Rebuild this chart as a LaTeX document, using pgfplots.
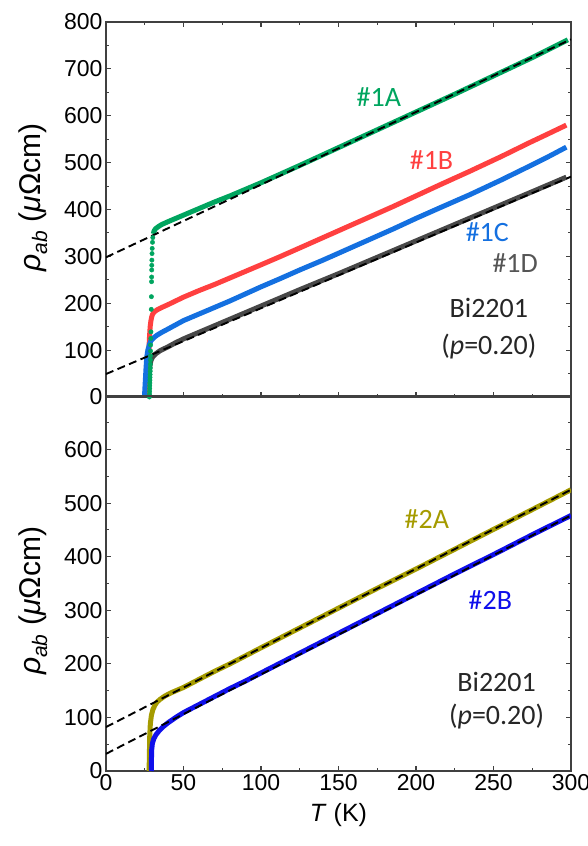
\documentclass[border=0pt]{standalone}
\usepackage{fontspec}
\setmainfont{Liberation Sans}
\newfontfamily\cb{Carlito}
\usepackage{pgfplots}
\pgfplotsset{compat=1.18}
\definecolor{axisgray}{RGB}{64,64,64}
\definecolor{greenA}{RGB}{0,165,95}
\definecolor{redB}{RGB}{255,64,64}
\definecolor{blueC}{RGB}{20,112,224}
\definecolor{grayD}{RGB}{72,72,72}
\definecolor{grayDl}{RGB}{85,85,85}
\definecolor{oliveA}{RGB}{165,155,0}
\definecolor{blueB}{RGB}{15,15,235}
\tikzset{
 lab/.style={font=\cb\fontsize{28}{32}\selectfont},
 curveline/.style={line width=5pt},
 fitline/.style={black, line width=1.9pt, dash pattern=on 8pt off 4.5pt},
}
\pgfplotsset{
 rhoaxis/.style={
  scale only axis, width=465pt, height=375pt,
  xmin=0, xmax=300,
  xtick={0,50,...,300}, minor xtick={25,75,...,275},
  tick align=inside,
  major tick length=5pt, minor tick length=3pt,
  axis line style={draw=axisgray, line width=1.3pt},
  tick style={draw=axisgray, line width=1.1pt},
  ticklabel style={font=\fontsize{23}{26}\selectfont},
  /pgf/number format/assume math mode=true,
  xlabel style={font=\fontsize{25}{28}\selectfont},
  ylabel style={font=\fontsize{30}{34}\selectfont},
 },
}
\begin{document}
\begin{tikzpicture}
\path[use as bounding box] (-106pt,-75pt) rectangle (482pt,771pt);
% ---------------- top panel
\begin{axis}[rhoaxis, at={(0pt,374pt)},
  ymin=0, ymax=800, ytick={0,100,...,800}, minor ytick={50,150,...,750},
  xticklabels={}, xtick pos=both, ytick pos=both,
  ylabel={\textit{ρ}\textsubscript{\textit{ab}} (\textit{μ}Ωcm)},
  ylabel style={at={([xshift=-73pt]axis description cs:0,0.532)}, anchor=center},
]
\addplot[curveline, grayD] coordinates {(27,0) (27.8,40) (28.3,65) (29,78) (30,85) (32,92) (35,99) (40,107) (45,116) (50,124) (60,138) (70,152) (80,166) (90,180) (100,194) (125,229) (150,263) (175,298) (200,333) (225,368) (250,403) (275,438) (297,469)};
\addplot[curveline, redB] coordinates {(26.8,0) (27.2,40) (27.6,90) (28,125) (28.5,150) (29,163) (29.5,171) (30,176) (31,181) (33,186) (36,191) (40,197) (45,205) (50,213) (60,227) (70,240) (80,254) (90,268) (100,282) (112,299) (125,318) (140,340) (155,362) (170,384) (185,406) (200,429) (215,452) (235,482) (255,513) (273.5,543) (285,561) (297,580)};
\addplot[curveline, blueC] coordinates {(24.8,0) (25.3,30) (25.8,60) (26.3,85) (27,100) (28,112) (29,120) (31,127) (33,132) (36,138) (40,145) (45,154) (50,163) (60,177) (70,191) (80,205) (90,220) (100,235) (112,252) (125,271) (140,292) (155,314) (170,336) (185,358) (200,381) (215,403) (235,432) (255,463) (273.5,493) (285,512) (297,533)};
\addplot[curveline, greenA] coordinates {(30.5,348) (31,354) (32,359) (34,364) (36,368) (40,374) (45,381) (50,388) (60,402) (70,416) (80,429) (90,443) (100,457) (125,494) (150,532) (175,570) (200,608) (225,646) (250,685) (275,724) (298,762)};
\addplot[only marks, mark=*, mark size=2.2pt, greenA, mark options={draw=none, fill=greenA}] coordinates {(28.0,0) (28.1,6) (28.15,12) (28.2,18) (28.25,24) (28.3,30) (28.35,36) (28.4,42) (28.45,48) (28.5,55) (28.55,62) (28.6,70) (28.65,79) (28.7,88) (28.75,98) (28.8,111) (28.9,125) (29.0,139) (29.2,187) (29.3,214) (29.4,246) (29.45,256) (29.5,271) (29.55,281) (29.6,292) (29.7,306) (29.8,317) (30.0,330) (30.2,340)};
\addplot[fitline] coordinates {(0,298) (300,763)};
\addplot[fitline] coordinates {(0,49) (300,470)};
\node[lab, text=greenA] at (axis cs:176,640) {\#1A};
\node[lab, text=redB] at (axis cs:210,505) {\#1B};
\node[lab, text=blueC] at (axis cs:246,352) {\#1C};
\node[lab, text=grayDl] at (axis cs:264,285) {\#1D};
\node[lab, text=black!85] at (axis cs:247,191) {Bi2201};
\node[lab, text=black!85] at (axis cs:247,107) {(\textit{p}=0.20)};
\end{axis}
% ---------------- bottom panel
\begin{axis}[rhoaxis, at={(0pt,0pt)},
  ymin=0, ymax=700, ytick={0,100,...,600}, minor ytick={50,150,...,650},
  xtick pos=left, ytick pos=both,
  ylabel={\textit{ρ}\textsubscript{\textit{ab}} (\textit{μ}Ωcm)},
  ylabel style={at={([xshift=-73pt]axis description cs:0,0.454)}, anchor=center},
  xlabel={\textit{T} (K)},
  xlabel style={at={([yshift=-44pt]axis description cs:0.5,0)}, anchor=center},
]
\addplot[curveline, oliveA] coordinates {(27.8,0) (28,30) (28.2,64) (28.6,88) (29.3,104) (30.3,115) (31.6,123) (33,129) (35,134) (38,140) (42,146) (46,151) (50,156) (60,171) (70,186) (80,200) (90,215) (100,230) (125,267) (150,304) (175,341) (200,377) (225,414) (250,451) (275,488) (300,525)};
\addplot[curveline, blueB] coordinates {(29.2,0) (29.3,20) (29.5,40) (29.9,51) (30.8,60) (32.3,68) (34.5,76) (37,83) (40,90) (45,100) (50,109) (60,124) (70,139) (80,154) (90,168) (100,183) (125,220) (150,257) (175,294) (200,331) (225,368) (250,404) (275,441) (300,477)};
\addplot[fitline] coordinates {(0,82) (300,525)};
\addplot[fitline] coordinates {(0,32) (300,477)};
\node[lab, text=oliveA] at (axis cs:207,470) {\#2A};
\node[lab, text=blueB] at (axis cs:248,320) {\#2B};
\node[lab, text=black!85] at (axis cs:252,167) {Bi2201};
\node[lab, text=black!85] at (axis cs:252,101) {(\textit{p}=0.20)};
\end{axis}
\end{tikzpicture}
\end{document}
